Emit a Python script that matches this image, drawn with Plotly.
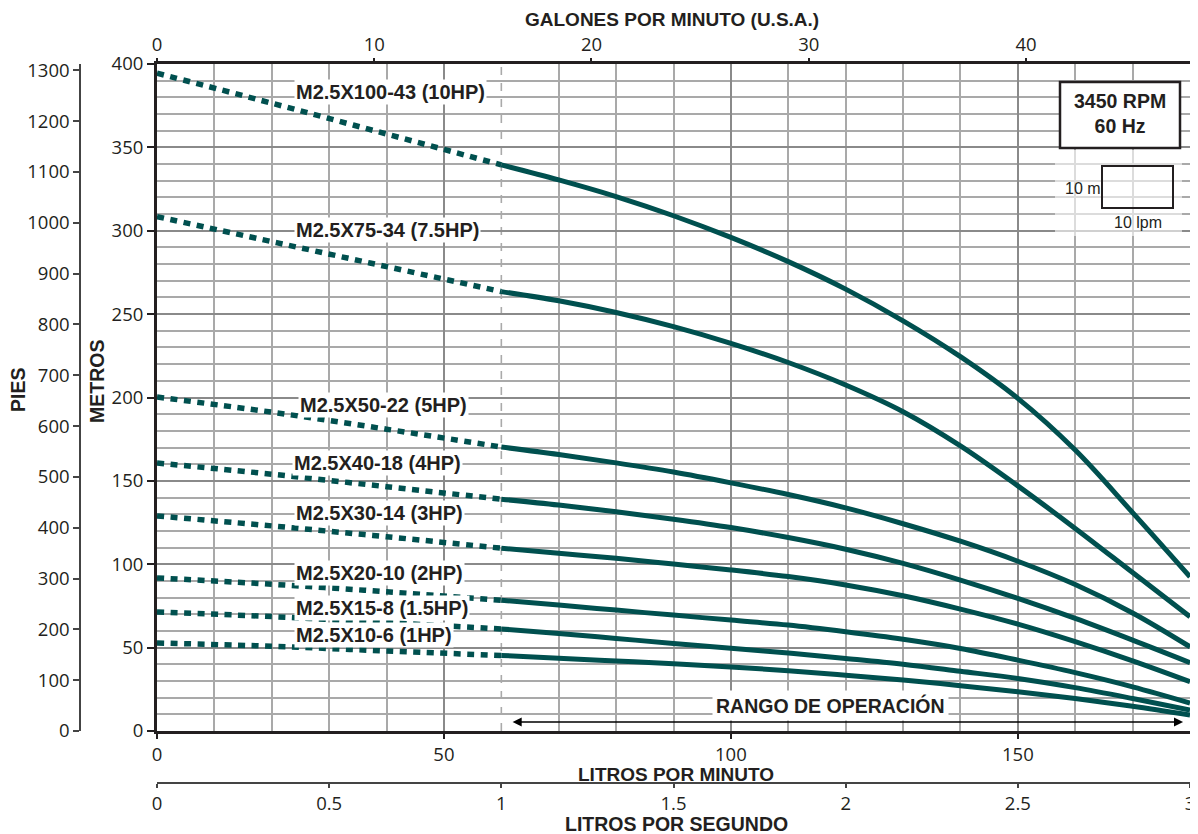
import plotly.graph_objects as go

# ---------------- data ----------------
pump_names = ["M2.5X100-43 (10HP)", "M2.5X75-34 (7.5HP)", "M2.5X50-22 (5HP)", "M2.5X40-18 (4HP)",
              "M2.5X30-14 (3HP)", "M2.5X20-10 (2HP)", "M2.5X15-8 (1.5HP)", "M2.5X10-6 (1HP)"]

q_dash = [0, 20, 40, 60]
h_dash_10 = [394.5, 376.5, 358, 339.5]
h_dash_75 = [308.5, 293.5, 278.5, 263.5]
h_dash_5 = [200.3, 191.2, 181, 170.3]
h_dash_4 = [160.7, 154, 146.5, 139]
h_dash_3 = [129, 123, 116.5, 109.6]
h_dash_2 = [91.8, 88, 83.5, 78.4]
h_dash_15 = [71.4, 68.6, 65, 61.2]
h_dash_1 = [52.8, 50.8, 48, 45.3]

q_solid = [60, 70, 80, 90, 100, 110, 120, 130, 140, 150, 160, 170, 180]
h_solid_10 = [339.5, 330.5, 320.5, 309, 296, 281.5, 265, 246, 224.5, 199.5, 168.5, 131, 92.5]
h_solid_75 = [263.5, 258, 251, 242.5, 232.5, 221, 207.5, 191.5, 171, 147, 121.5, 95, 68.5]
h_solid_5 = [170.3, 165.8, 160.8, 155.3, 148.8, 141.8, 133.8, 124.3, 113.8, 101.8, 87.8, 70.8, 50.5]
h_solid_4 = [139, 135.5, 131.5, 127, 122, 116, 109, 100.5, 90.5, 79.5, 67.5, 54.5, 41]
h_solid_3 = [109.6, 106.6, 103.6, 100.1, 96.6, 92.6, 87.6, 81.1, 73.1, 64.1, 53.6, 42.1, 29.6]
h_solid_2 = [78.4, 75.5, 72.5, 69.5, 66.5, 63.5, 59.5, 55, 49.5, 42.5, 35, 26.5, 16.8]
h_solid_15 = [61.2, 58.5, 55.5, 52.5, 49.6, 46.8, 43.5, 40, 35.8, 31.5, 26, 19.5, 12.6]
h_solid_1 = [45.3, 43.7, 42, 40.3, 38.4, 36.2, 33.5, 30.6, 27.2, 23.6, 19.5, 14.8, 9.6]

h_dash_all = [h_dash_10, h_dash_75, h_dash_5, h_dash_4, h_dash_3, h_dash_2, h_dash_15, h_dash_1]
h_solid_all = [h_solid_10, h_solid_75, h_solid_5, h_solid_4, h_solid_3, h_solid_2, h_solid_15, h_solid_1]

# label anchor points (lpm, m)
label_x = [23.8, 23.8, 24.5, 23.6, 23.8, 23.8, 23.8, 23.8]
label_y = [383.2, 300.4, 195.4, 160.6, 130.6, 94.6, 73.6, 57.6]

lpm_max = 180
m_max = 400
gpm_max = lpm_max / 3.785411784
ft_max = m_max / 0.3048
lps_max = lpm_max / 60

# ---------------- styling helpers ----------------
OFF = 8            # page body margin
W, H = 1190, 826   # figure size so that it ends at the window edge
RM = 8
PW = W - RM        # paper width in px
def pxx(x):
    return (x - OFF) / PW
def pxy(y):
    return 1 - (y - OFF) / H

TEAL = "#00504f"
DARK = "#231f20"
tick_font = dict(family="Open Sans, Noto Sans, sans-serif", size=18.5, color=DARK)
bold_font = "Liberation Sans, Arial, sans-serif"

fig = go.Figure()

for name, hd, hs in zip(pump_names, h_dash_all, h_solid_all):
    fig.add_trace(go.Scatter(x=q_dash, y=hd, mode="lines", line=dict(color=TEAL, width=5.5, dash="7px,6.5px", shape="spline"),
                             name=name, showlegend=False, hoverinfo="skip"))
    fig.add_trace(go.Scatter(x=q_solid, y=hs, mode="lines", line=dict(color=TEAL, width=5, shape="spline"),
                             name=name, showlegend=False))

# helper invisible traces so the secondary axes exist
fig.add_trace(go.Scatter(x=[0, gpm_max], y=[0, 0], xaxis="x2", yaxis="y", mode="markers",
                         marker=dict(opacity=0), showlegend=False, hoverinfo="skip"))
fig.add_trace(go.Scatter(x=[0, lps_max], y=[0, 0], xaxis="x3", yaxis="y", mode="markers",
                         marker=dict(opacity=0), showlegend=False, hoverinfo="skip"))
fig.add_trace(go.Scatter(x=[0, 0], y=[0, ft_max], xaxis="x", yaxis="y2", mode="markers",
                         marker=dict(opacity=0), showlegend=False, hoverinfo="skip"))

xdom = [pxx(157), 1.0]
ydom = [pxy(731), pxy(64)]

minor_x = [v for v in range(10, lpm_max, 10) if v % 50 != 0 and v != 60]
minor_y = [v for v in range(10, m_max, 10) if v % 50 != 0]

fig.update_layout(
    width=W, height=H,
    margin=dict(l=0, r=RM, t=0, b=0, autoexpand=False),
    plot_bgcolor="white", paper_bgcolor="white",
    showlegend=False,
    xaxis=dict(domain=xdom, range=[0, lpm_max], tickmode="array", tickvals=[0, 50, 100, 150],
               ticks="outside", ticklen=5, tickwidth=2, tickcolor=DARK,
               showline=True, linewidth=3, linecolor=DARK, mirror=True,
               showgrid=True, gridcolor="#8a8a8a", gridwidth=2.4,
               minor=dict(tickmode="array", tickvals=minor_x, showgrid=True, gridcolor="#a9a9a9", gridwidth=1.8, ticks=""),
               zeroline=False, tickfont=tick_font, anchor="y", automargin=False),
    yaxis=dict(domain=ydom, range=[0, m_max], tickmode="array", tickvals=list(range(0, 401, 50)),
               ticks="outside", ticklen=7, tickwidth=2, tickcolor=DARK,
               showline=True, linewidth=3, linecolor=DARK, mirror=True,
               showgrid=True, gridcolor="#8a8a8a", gridwidth=2.4,
               minor=dict(tickmode="array", tickvals=minor_y, showgrid=True, gridcolor="#a9a9a9", gridwidth=1.8, ticks=""),
               zeroline=False, tickfont=tick_font, anchor="x", automargin=False),
    xaxis2=dict(overlaying="x", side="top", anchor="y", range=[0, gpm_max], tickmode="array",
                tickvals=[0, 10, 20, 30, 40], ticks="outside", ticklen=5, tickwidth=2, tickcolor=DARK,
                showgrid=False, showline=False, zeroline=False, tickfont=tick_font, automargin=False),
    xaxis3=dict(overlaying="x", anchor="free", position=pxy(783), side="bottom", range=[0, lps_max],
                tickmode="array", tickvals=[0, 0.5, 1, 1.5, 2, 2.5, 3], ticktext=["0", "0.5", "1", "1.5", "2", "2.5", "3"],
                ticks="outside", ticklen=4, tickwidth=1.5, tickcolor="#444",
                showline=True, linewidth=1.5, linecolor="#444", showgrid=False, zeroline=False,
                tickfont=tick_font, automargin=False),
    yaxis2=dict(overlaying="y", anchor="free", position=pxx(80), side="left", range=[0, ft_max],
                tickmode="array", tickvals=list(range(0, 1301, 100)),
                ticks="outside", ticklen=6, tickwidth=1.5, tickcolor="#444",
                showline=True, linewidth=1.5, linecolor="#444", showgrid=False, zeroline=False,
                tickfont=tick_font, automargin=False),
)

shapes = []
# dashed vertical line at start of operating range
shapes.append(dict(type="line", xref="x", yref="y", x0=60, x1=60, y0=0, y1=m_max,
                   line=dict(color="#aaaaaa", width=1.6, dash="8px,8px"), layer="below"))
# lightened area around scale legend
shapes.append(dict(type="rect", xref="paper", yref="paper", x0=pxx(1055), x1=pxx(1182), y0=pxy(236), y1=pxy(150),
                   fillcolor="rgba(255,255,255,0.6)", line=dict(width=0), layer="above"))
# RPM box
shapes.append(dict(type="rect", xref="paper", yref="paper", x0=pxx(1060), x1=pxx(1180), y0=pxy(148), y1=pxy(82),
                   fillcolor="white", line=dict(color=DARK, width=2.5), layer="above"))
# scale box
shapes.append(dict(type="rect", xref="paper", yref="paper", x0=pxx(1102), x1=pxx(1173), y0=pxy(208), y1=pxy(166),
                   fillcolor="rgba(0,0,0,0)", line=dict(color=DARK, width=2), layer="above"))
fig.update_layout(shapes=shapes)

def txt(x, y, text, size, family=bold_font, angle=0, bg=None, pad=1):
    d = dict(x=pxx(x), y=pxy(y), xref="paper", yref="paper", text=text, showarrow=False,
             xanchor="center", yanchor="middle", textangle=angle,
             font=dict(family=family, size=size, color=DARK))
    if bg:
        d.update(bgcolor=bg, borderpad=pad)
    return d

ann = []
for name, lx, ly in zip(pump_names, label_x, label_y):
    ann.append(dict(x=lx, y=ly, xref="x", yref="y", text="<b>" + name + "</b>", showarrow=False,
                    xanchor="left", yanchor="middle", bgcolor="white", borderpad=1,
                    font=dict(family=bold_font, size=20, color=DARK)))

# operating range arrow + label
ann.append(dict(x=178.8, y=5.4, ax=61.7, ay=5.4, xref="x", yref="y", axref="x", ayref="y", text="",
                showarrow=True, arrowhead=2, arrowside="end+start", arrowsize=1.4, arrowwidth=1.3, arrowcolor="black"))
ann.append(txt(830, 705, "<b>RANGO DE OPERACIÓN</b>", 19.5, bg="white", pad=3))

# axis titles
ann.append(txt(672, 19, "<b>GALONES POR MINUTO (U.S.A.)</b>", 19))
ann.append(txt(676, 774, "<b>LITROS POR MINUTO</b>", 19))
ann.append(txt(676, 824, "<b>LITROS POR SEGUNDO</b>", 19.5))
ann.append(txt(18, 390, "<b>PIES</b>", 19.5, angle=-90))
ann.append(txt(97, 382, "<b>METROS</b>", 19.5, angle=-90))

# RPM box text and scale legend
ann.append(txt(1120, 113, "<b>3450 RPM<br>60 Hz</b>", 19.5))
ann.append(txt(1083, 188, "10 m", 16, family="Liberation Sans, Arial, sans-serif"))
ann.append(txt(1138, 223, "10 lpm", 16, family="Liberation Sans, Arial, sans-serif"))

fig.update_layout(annotations=ann)

fig.write_html("out.html")
